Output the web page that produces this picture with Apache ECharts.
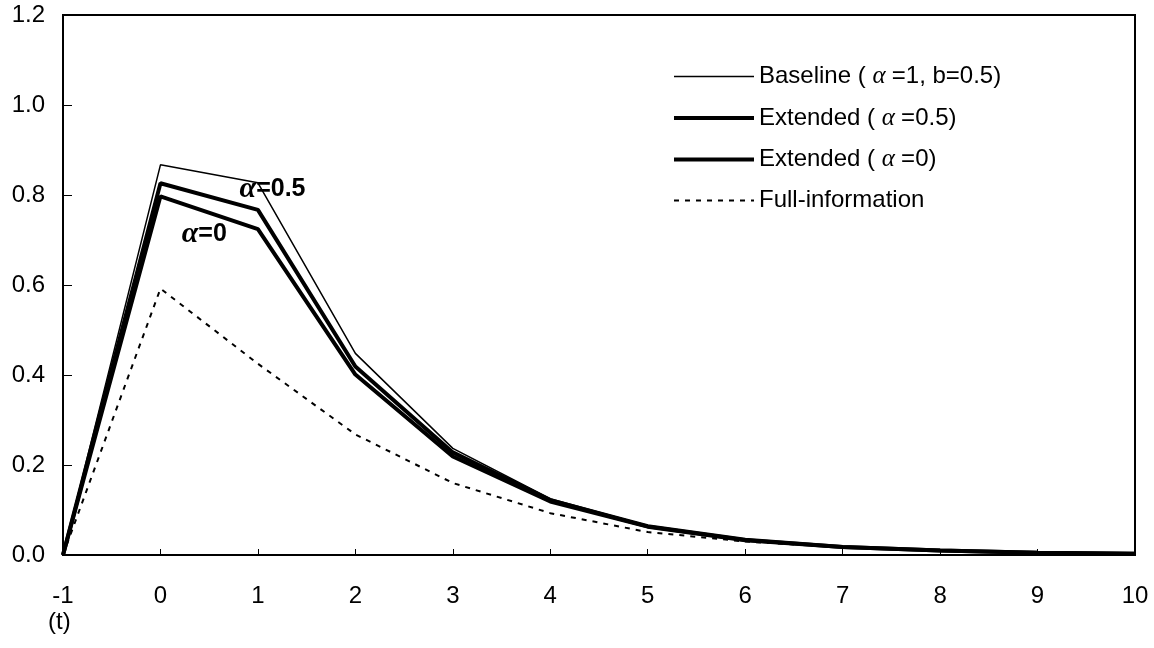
<!DOCTYPE html>
<html>
<head>
<meta charset="utf-8">
<script src="https://cdn.jsdelivr.net/npm/echarts@6/dist/echarts.min.js"></script>
<style>
  html, body { margin: 0; padding: 0; background: #fff; }
  #chart { width: 1154px; height: 648px; }
</style>
</head>
<body>
<div id="chart"></div>
<script>
// Periods after the shock
const periods = [-1, 0, 1, 2, 3, 4, 5, 6, 7, 8, 9, 10];

// Responses for each model
const baseline   = [0, 0.867, 0.827, 0.448, 0.237, 0.125, 0.065, 0.034, 0.018, 0.010, 0.005, 0.003];
const extHalf    = [0, 0.826, 0.767, 0.419, 0.228, 0.122, 0.064, 0.034, 0.018, 0.010, 0.005, 0.003];
const extZero    = [0, 0.797, 0.724, 0.401, 0.219, 0.119, 0.063, 0.033, 0.018, 0.010, 0.005, 0.003];
const fullInfo   = [0, 0.592, 0.425, 0.268, 0.160, 0.093, 0.051, 0.030, 0.017, 0.009, 0.005, 0.003];

const yTicks = [0, 0.2, 0.4, 0.6, 0.8, 1.0, 1.2];

const seriesNames = [
  'Baseline ( {a|α }=1, b=0.5)',
  'Extended ( {a|α }=0.5)',
  'Extended ( {a|α }=0)',
  'Full-information'
];

const pair = arr => periods.map((t, i) => [t, arr[i]]);

const chart = echarts.init(document.getElementById('chart'));
const FONT = 'Liberation Sans, Arial, sans-serif';
const ALPHA = { fontFamily: 'Liberation Serif, DejaVu Serif, serif', fontStyle: 'italic', fontSize: 25, color: '#000' };
const BOLD_ALPHA = { fontFamily: 'Liberation Serif, DejaVu Serif, serif', fontStyle: 'italic', fontWeight: 'bold', fontSize: 30, color: '#000' };
const BOLD_TXT = { fontFamily: FONT, fontSize: 25, fontWeight: 'bold', color: '#000' };

chart.setOption({
  animation: false,
  backgroundColor: '#fff',
  grid: { left: 63, right: 19, top: 15, bottom: 93, show: true, borderColor: '#000', borderWidth: 2, backgroundColor: 'transparent' },
  xAxis: {
    type: 'value', min: -1, max: 10, interval: 1,
    axisLine: { show: true, onZero: false, lineStyle: { color: '#000', width: 2 } },
    axisTick: { show: true, inside: true, length: 6, lineStyle: { color: '#000', width: 1 } },
    axisLabel: { color: '#000', fontSize: 24, fontFamily: FONT, margin: 29 },
    splitLine: { show: false }
  },
  yAxis: {
    type: 'value', min: yTicks[0], max: yTicks[yTicks.length - 1], interval: 0.2,
    axisLine: { show: true, onZero: false, lineStyle: { color: '#000', width: 2 } },
    axisTick: { show: true, inside: true, length: 9, lineStyle: { color: '#000', width: 1 } },
    axisLabel: { color: '#000', fontSize: 24, fontFamily: FONT, margin: 18, formatter: v => v.toFixed(1) },
    splitLine: { show: false }
  },
  legend: {
    show: true,
    orient: 'vertical', left: 672, top: 64, padding: 0,
    itemWidth: 80, itemHeight: 24, itemGap: 16.5,
    itemStyle: { opacity: 0, color: 'transparent', borderWidth: 0 },
    lineStyle: { width: 'inherit' },
    textStyle: { fontFamily: FONT, fontSize: 24, color: '#000', rich: { a: ALPHA } },
    data: seriesNames
  },
  graphic: [{
    type: 'text', left: 48, top: 610,
    style: { text: '(t)', fontFamily: FONT, fontSize: 24, fill: '#000' }
  }],
  series: [
    {
      name: seriesNames[0], type: 'line', data: pair(baseline), symbol: 'none',
      lineStyle: { color: '#000', width: 1.5 }, itemStyle: { color: '#000' }, z: 4
    },
    {
      name: seriesNames[1], type: 'line', data: pair(extHalf), symbol: 'none',
      lineStyle: { color: '#000', width: 4 }, itemStyle: { color: '#000' }, z: 3,
      markPoint: {
        symbol: 'circle', symbolSize: 1, itemStyle: { color: 'rgba(0,0,0,0)' },
        data: [{ coord: [1.15, 0.812] }],
        label: {
          show: true, position: 'inside',
          formatter: '{a|α}{b|=0.5}',
          rich: { a: BOLD_ALPHA, b: BOLD_TXT }
        }
      }
    },
    {
      name: seriesNames[2], type: 'line', data: pair(extZero), symbol: 'none',
      lineStyle: { color: '#000', width: 4 }, itemStyle: { color: '#000' }, z: 3,
      markPoint: {
        symbol: 'circle', symbolSize: 1, itemStyle: { color: 'rgba(0,0,0,0)' },
        data: [{ coord: [0.45, 0.712] }],
        label: {
          show: true, position: 'inside',
          formatter: '{a|α}{b|=0}',
          rich: { a: BOLD_ALPHA, b: BOLD_TXT }
        }
      }
    },
    {
      name: seriesNames[3], type: 'line', data: pair(fullInfo), symbol: 'none',
      lineStyle: { color: '#000', width: 2, type: [5, 6] }, itemStyle: { color: '#000' }, z: 2
    }
  ]
});
</script>
</body>
</html>
